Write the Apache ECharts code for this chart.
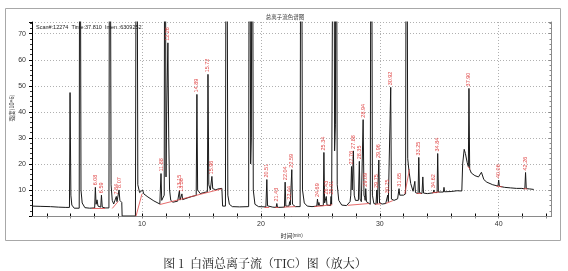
<!DOCTYPE html>
<html><head><meta charset="utf-8">
<script src="https://cdn.jsdelivr.net/npm/echarts@6/dist/echarts.min.js"></script>
<style>html,body{margin:0;padding:0;background:#fff}#c{width:568px;height:271px}</style>
</head><body><div id="c"></div>
<script>
// ---- data ----
const timeRange = [0.75, 44.4];          // min
const intensityRange = [0, 74.5];        // x10^6
const xTickLabels = [10, 20, 30, 40];
const yTickLabels = [10, 20, 30, 40, 50, 60, 70];
const xSmallTicks = [2,4,6,8,10,12,14,16,18,20,22,24,26,28,30,32,34,36,38,40,42,44];

// TIC trace [time (min), intensity (10^6)]; off-scale peaks exceed the axis top
const trace = [
[0.75,3.8],[1.5,3.7],[2.3,3.6],[3.0,3.4],[3.6,3.3],[3.9,3.3],[3.95,47.4],[4.02,8],[4.1,4.2],[4.3,3.0],
[4.72,3.0],[4.78,200],[4.87,10],[4.97,5],[5.2,3.2],[5.6,3.0],
[6.02,3.1],[6.08,11],[6.14,4.5],[6.22,6.2],[6.3,3.8],[6.53,3.4],[6.59,8],[6.66,3.4],[6.9,3.1],
[7.22,3.1],[7.3,200],[7.4,12],[7.5,6],[7.62,4.6],[7.78,5.2],[7.84,7.5],[7.9,5.5],[8.0,6],[8.07,10],[8.14,6],[8.25,5.5],[8.3,5.2],[8.33,0],
[9.45,0],[9.55,200],[9.65,12],[9.8,9],[9.95,8.4],[10.05,10],[10.15,8.5],[10.5,7.3],[11.0,5.8],[11.5,4.6],
[11.55,5],[11.6,16.3],[11.66,6],[11.8,5.6],[11.87,8],[11.93,200],[12.02,15],[12.08,40],[12.18,66.5],[12.25,30],[12.32,10],[12.42,6],[12.6,5.3],
[13.0,5.7],[13.1,5.9],[13.15,9.8],[13.2,6.1],[13.3,6.2],[13.36,8.5],[13.42,6.3],[13.8,6.9],[14.2,7.5],[14.56,7.9],[14.62,46.7],[14.68,10],[14.9,8.6],[15.2,9],[15.5,9.3],
[15.55,54.4],[15.62,12],[15.75,10],[15.82,10.2],[15.88,15.2],[15.95,10.5],[16.2,10.1],[16.5,10.5],[16.72,10.6],[16.78,3.8],
[17.02,3.8],[17.1,200],[17.22,8],[17.35,4.5],[17.6,3.6],[18.2,3.5],[18.97,3.6],
[19.05,200],[19.14,20],[19.2,30],[19.27,200],[19.36,10],[19.5,4.5],[19.8,3.6],
[20.42,3.5],[20.5,14],[20.56,3.9],[21.0,3.4],[21.28,3.3],[21.34,4.8],[21.4,3.3],
[21.98,3.4],[22.04,13],[22.1,3.8],[22.36,3.8],[22.42,5.5],[22.47,4.2],[22.54,4],[22.6,17.8],[22.66,4.5],[22.9,3.6],
[23.3,3.6],[23.38,200],[23.5,10],[23.65,5],[23.9,3.8],[24.3,3.6],[24.7,3.8],[24.76,6.5],[24.82,4],[24.88,5.2],[24.94,4],
[25.25,4],[25.3,24.4],[25.36,5],[25.45,4.5],[25.5,7.5],[25.56,4.2],[25.85,4],[25.9,7.5],[25.95,4.5],
[26.05,4.5],[26.12,200],[26.2,25],[26.27,35],[26.33,200],[26.42,12],[26.55,6],[26.8,4.2],[27.2,4],
[27.5,5.5],[27.56,8],[27.62,19],[27.68,10],[27.78,25],[27.85,8],[27.95,6],[28.2,6],[28.28,21],[28.34,6.5],[28.45,5.5],
[28.53,5.5],[28.6,37],[28.67,8],[28.74,7],[28.77,6],[28.82,10.5],[28.88,5.5],[29.0,4.8],
[29.2,4.5],[29.28,200],[29.38,8],[29.5,4.8],[29.68,4.5],[29.75,10],[29.8,4.8],[29.87,4.8],[29.92,21.5],[29.98,5],[30.2,4.6],[30.5,4.8],
[30.6,5],[30.67,8],[30.72,5.5],[30.86,5.5],[30.92,49.4],[30.98,6.5],[31.2,6],[31.5,6.6],[31.56,7],[31.62,10.5],[31.68,8],[31.8,8.5],[32.0,8],
[32.17,8.5],[32.25,200],[32.35,22],[32.45,17.5],[32.6,12.5],[32.8,9.5],[32.9,9],[32.95,13.3],[33.0,9],
[33.22,8.6],[33.28,22.5],[33.34,9],[33.55,8.6],[33.62,15],[33.68,8.8],[34.0,8.6],[34.5,8.9],[34.55,10],[34.6,9],
[34.82,9],[34.87,24],[34.93,9.2],[35.35,9.2],[35.4,11],[35.45,9.3],[36.0,9.4],[36.5,9.7],[36.9,9.6],
[36.97,20],[37.1,25.6],[37.2,24],[37.35,20.5],[37.45,19],[37.5,49],[37.56,18],[37.7,16.5],[38.0,15.5],[38.3,15],[38.4,15.1],[38.55,16.8],[38.75,14],[39.0,13],[39.5,12],
[39.94,11.5],[40.0,13.8],[40.06,11.4],[40.5,11],[41.0,10.8],[41.5,10.6],[41.95,10.6],[42.0,11.1],[42.05,10.5],[42.2,10.4],[42.26,16.7],[42.32,10.5],[42.6,10.4],[42.95,10.2]
];

// retention-time labels [time, apex intensity, text]
const peakLabels = [
[6.08,11,'6.08'],[6.59,8,'6.59'],[7.84,7.5,'7.84'],[8.07,10,'8.07'],[11.6,16.3,'11.88'],[12.18,66.5,'12.26'],
[13.15,9.8,'13.15'],[13.36,8.5,'13.36'],[14.62,46.7,'14.89'],[15.55,54.4,'15.72'],[15.88,15.2,'15.96'],
[20.5,14,'20.51'],[21.34,4.8,'21.43'],[22.04,13,'22.04'],[22.42,5.5,'22.44'],[22.6,17.8,'22.59'],
[24.76,6.5,'24.69'],[25.3,24.4,'25.34'],[25.5,7.5,'25.43'],[25.9,7.5,'25.91'],[27.62,19,'27.76'],[27.78,25,'27.88'],
[28.28,21,'28.35'],[28.6,37,'28.94'],[28.82,10.5,'29.09'],[29.75,10,'29.75'],[29.92,21.5,'29.96'],[30.67,8,'30.75'],
[30.92,49.4,'30.92'],[31.62,10.5,'31.65'],[33.28,22.5,'33.25'],[34.55,10,'34.62'],[34.87,24,'34.84'],
[37.5,49,'37.90'],[40.0,13.8,'40.06'],[42.26,16.7,'42.26']
];

// integration baselines (red segments)
const integrationBaselines = [
[[5.8,3.0],[6.9,3.1]],[[7.5,2.9],[8.0,5.6]],[[9.5,0],[10.0,8.5]],[[11.5,4.4],[16.7,10.4]],
[[20.3,3.4],[20.7,3.5]],[[21.2,3.3],[21.5,3.3]],[[21.9,3.4],[22.9,3.6]],[[24.5,3.6],[26.0,4.3]],
[[27.3,4.1],[29.1,4.8]],[[29.6,4.5],[30.1,4.7]],[[30.5,4.8],[31.1,5.9]],[[32.1,8.5],[32.5,18]],
[[33.1,8.6],[33.5,8.7]],[[34.4,8.9],[35.0,9.2]],[[37.4,19],[37.6,18]],[[39.8,11.5],[40.3,11.2]],[[42.1,10.5],[42.4,10.4]]
];

const chart = echarts.init(document.getElementById('c'), null, {renderer:'canvas'});
const dotted = {type:[1,2], color:'#b0b0b0', width:1};
const tickFont = {fontSize:7, color:'#333', fontFamily:'Liberation Sans, Arial, sans-serif'};
chart.setOption({
  animation:false,
  backgroundColor:'#fff',
  grid:{left:32, right:17, top:22, bottom:55, containLabel:false},
  title:{text:'总离子流色谱图', left:280, top:9, textAlign:'center',
    textStyle:{fontSize:5.5, fontWeight:'normal', color:'#333', fontFamily:'Noto Sans CJK SC'}},
  xAxis:[
    {type:'value', min:timeRange[0], max:timeRange[1], position:'bottom',
     axisLine:{show:true, onZero:false, lineStyle:{color:'#000', width:1}},
     axisTick:{show:false},
     axisLabel:Object.assign({margin:5, formatter:v => xTickLabels.includes(v) ? String(v) : ''}, tickFont),
     splitLine:{show:true, lineStyle:dotted},
     name:'{a|时间}{b|(min)}', nameLocation:'middle', nameGap:15,
     nameTextStyle:{rich:{a:{fontSize:6, color:'#333', fontFamily:'Noto Sans CJK SC'}, b:{fontSize:4.5, color:'#333'}}}},
    {type:'value', min:timeRange[0], max:timeRange[1], position:'bottom',
     axisLine:{show:false}, axisLabel:{show:false}, splitLine:{show:false},
     axisTick:{show:true, inside:true, length:2.5, customValues:xSmallTicks, lineStyle:{color:'#000'}}},
    {type:'value', min:timeRange[0], max:timeRange[1], position:'top',
     axisLine:{show:true, lineStyle:{color:'#8a8a8a'}}, axisLabel:{show:false}, splitLine:{show:false},
     axisTick:{show:true, inside:true, length:2.5, customValues:xSmallTicks, lineStyle:{color:'#8a8a8a'}}}
  ],
  yAxis:[
    {type:'value', min:intensityRange[0], max:intensityRange[1], interval:10,
     axisLine:{show:true, onZero:false, lineStyle:{color:'#000'}},
     axisTick:{show:true, inside:false, length:3, lineStyle:{color:'#000'}},
     minorTick:{show:true, splitNumber:5, length:2, lineStyle:{color:'#333'}},
     axisLabel:Object.assign({margin:6, formatter:v => yTickLabels.includes(v) ? String(v) : ''}, tickFont),
     splitLine:{show:true, lineStyle:dotted}},
    {type:'value', min:intensityRange[0], max:intensityRange[1], interval:10, position:'right',
     axisLine:{show:true, lineStyle:{color:'#8a8a8a'}},
     axisTick:{show:true, inside:true, length:2.5, lineStyle:{color:'#8a8a8a'}},
     minorTick:{show:true, splitNumber:5, length:1.5, lineStyle:{color:'#8a8a8a'}},
     axisLabel:{show:false}, splitLine:{show:false}}
  ],
  graphic:[
    {type:'rect', shape:{x:5.5, y:8.5, width:555, height:232}, style:{fill:'none', stroke:'#a8a8a8', lineWidth:1}, silent:true, z:-1},
    {type:'text', x:36, y:27, style:{text:'Scan#:12274  Time:37.810  Inten.:6309252', fontSize:5.5, fill:'#222',
      fontFamily:'Liberation Sans, Arial, sans-serif', textVerticalAlign:'middle'}},
    {type:'text', x:12, y:108, rotation:Math.PI/2,
      style:{text:'强度(10^6)', fontSize:5.5, fill:'#333', fontFamily:'Noto Sans CJK SC', textAlign:'center', textVerticalAlign:'middle'}},
    {type:'text', x:265, y:263,
      style:{text:'图 1  白酒总离子流（TIC）图（放大）', fontSize:12, fill:'#222',
        fontFamily:'"Noto Serif CJK SC", "Noto Sans CJK SC", serif', textAlign:'center', textVerticalAlign:'middle'}}
  ],
  series:[
    {type:'line', xAxisIndex:0, yAxisIndex:0, data:trace, showSymbol:false, clip:true, z:2,
     lineStyle:{color:'#1a1a1a', width:1}},
    {type:'lines', coordinateSystem:'cartesian2d', xAxisIndex:0, yAxisIndex:0, polyline:false, z:3,
     data:integrationBaselines.map(c => ({coords:c})),
     lineStyle:{color:'#e04848', width:0.8, opacity:1}},
    {type:'scatter', xAxisIndex:0, yAxisIndex:0, symbol:'circle', symbolSize:1, z:4, clip:false,
     itemStyle:{color:'rgba(0,0,0,0)'},
     data:peakLabels.map(p => ({value:[p[0], p[1]], name:p[2]})),
     label:{show:true, formatter:'{b}', position:'top', distance:1.5, rotate:90, align:'left', verticalAlign:'middle',
       fontSize:5.5, color:'#e04848', opacity:1, fontFamily:'Liberation Sans, Arial, sans-serif'}}
  ]
});
</script></body></html>
